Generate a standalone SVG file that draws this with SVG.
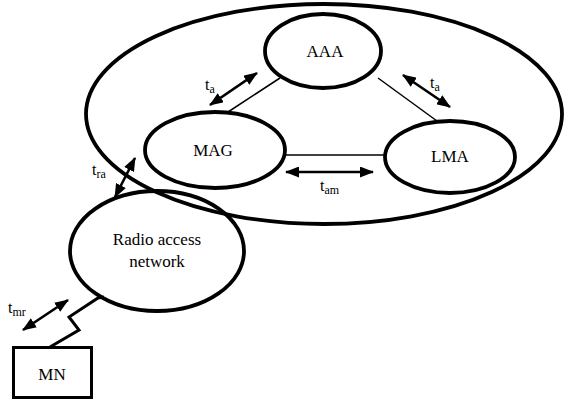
<svg xmlns="http://www.w3.org/2000/svg" width="564" height="400" viewBox="0 0 564 400">
<defs>
<style>
.node{fill:none;stroke:#000;stroke-width:3.8}
.lbl{font-family:"Liberation Serif","Times New Roman",serif;font-size:17px;fill:#000;text-anchor:middle}
.sl{font-family:"Liberation Serif","Times New Roman",serif;font-size:16px;fill:#000}
.sub{font-size:12px}
.link{stroke:#000;stroke-width:1.5;fill:none}
.arr{stroke:#000;stroke-width:2.6;fill:none;marker-start:url(#ah);marker-end:url(#ah)}
</style>
<marker id="ah" markerUnits="userSpaceOnUse" markerWidth="14" markerHeight="11" refX="13" refY="5.5" orient="auto-start-reverse" viewBox="0 0 14 11">
<path d="M0,0 L14,5.5 L0,11 z" fill="#000"/>
</marker>
</defs>
<rect width="564" height="400" fill="#fff"/>
<g id="domain"><ellipse class="node" cx="324" cy="114" rx="238" ry="110"/></g>
<g id="connectors">
<line class="link" x1="228" y1="112" x2="280" y2="78"/>
<line class="link" x1="378" y1="78" x2="437" y2="121"/>
<line class="link" x1="285" y1="155" x2="385" y2="155"/>
<polyline fill="none" stroke="#000" stroke-width="3" points="50,347 79,330 69,317 98,298 104,297"/>
<line class="arr" x1="210" y1="105" x2="257" y2="73"/>
<line class="arr" x1="403" y1="75" x2="450" y2="107"/>
<line class="arr" x1="286" y1="172" x2="373" y2="172"/>
<line class="arr" x1="115" y1="197" x2="135" y2="158"/>
<line class="arr" x1="23" y1="330" x2="68" y2="300"/>
<text class="sl" x="205" y="90">t<tspan class="sub" dy="3">a</tspan></text>
<text class="sl" x="430" y="88">t<tspan class="sub" dy="3">a</tspan></text>
<text class="sl" x="320" y="191">t<tspan class="sub" dy="3">am</tspan></text>
<text class="sl" x="92" y="175">t<tspan class="sub" dy="3">ra</tspan></text>
<text class="sl" x="8" y="313">t<tspan class="sub" dy="3">mr</tspan></text>
</g>
<g id="AAA"><ellipse class="node" cx="323" cy="51" rx="58" ry="37"/><text class="lbl" x="325" y="57">AAA</text></g>
<g id="MAG"><ellipse class="node" cx="215" cy="150" rx="70" ry="38"/><text class="lbl" x="213" y="156">MAG</text></g>
<g id="LMA"><ellipse class="node" cx="450" cy="157" rx="65" ry="36"/><text class="lbl" x="450" y="162">LMA</text></g>
<g id="RAN"><ellipse class="node" cx="157" cy="251" rx="87" ry="60"/><text class="lbl" x="157" y="245">Radio access</text><text class="lbl" x="157" y="267">network</text></g>
<g id="MN"><rect x="13.5" y="347.5" width="78" height="50" fill="none" stroke="#000" stroke-width="3"/><text class="lbl" x="52" y="380">MN</text></g>
</svg>
